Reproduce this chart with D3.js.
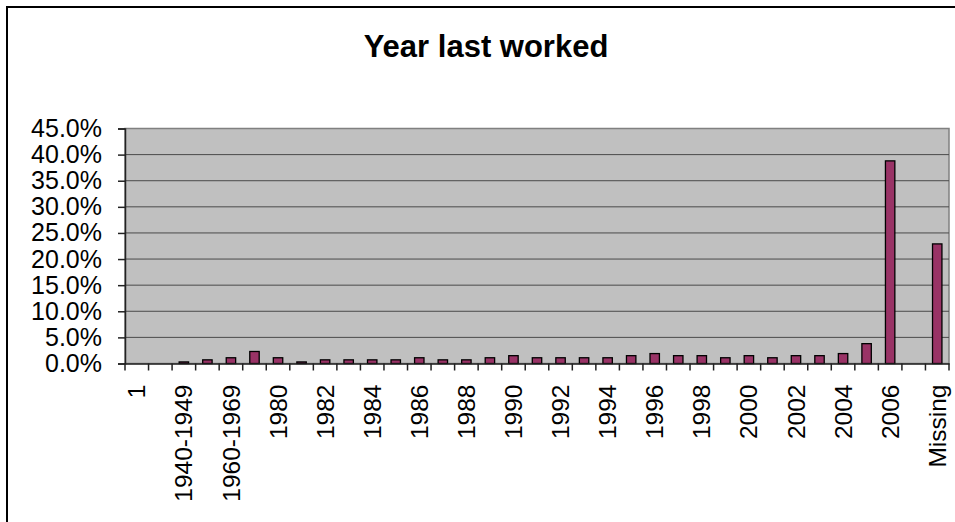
<!DOCTYPE html>
<html>
<head>
<meta charset="utf-8">
<script src="https://cdn.jsdelivr.net/npm/d3@7"></script>
<style>
  html, body { margin: 0; padding: 0; background: #fff; }
  svg { display: block; font-family: "Liberation Sans", Arial, sans-serif; }
</style>
</head>
<body>
<svg id="chart" width="955" height="522"></svg>
<script>
// ---- data ----
const categories = ["1", "1930-1939", "1940-1949", "1950-1959", "1960-1969", "1970-1979",
  "1980", "1981", "1982", "1983", "1984", "1985", "1986", "1987", "1988", "1989",
  "1990", "1991", "1992", "1993", "1994", "1995", "1996", "1997", "1998", "1999",
  "2000", "2001", "2002", "2003", "2004", "2005", "2006", "2007", "Missing"];
const values = [0, 0, 0.3, 0.7, 1.1, 2.3,
  1.1, 0.3, 0.7, 0.7, 0.7, 0.7, 1.1, 0.7, 0.7, 1.1,
  1.5, 1.1, 1.1, 1.1, 1.1, 1.5, 1.9, 1.5, 1.5, 1.1,
  1.5, 1.1, 1.5, 1.5, 1.9, 3.8, 38.8, 0, 22.9];
const yTicks = [0, 5, 10, 15, 20, 25, 30, 35, 40, 45];
const title = "Year last worked";

// ---- layout ----
const svg = d3.select("#chart");
const plot = { left: 125, right: 949, top: 128.5, bottom: 363.5 };

// outer chart border
svg.append("rect")
  .attr("x", 7).attr("y", 7).attr("width", 1000).attr("height", 600)
  .attr("fill", "#fff").attr("stroke", "#000").attr("stroke-width", 2);

svg.append("text")
  .attr("x", 486).attr("y", 57)
  .attr("text-anchor", "middle")
  .attr("font-size", 31).attr("font-weight", "bold")
  .text(title);

const x = d3.scaleBand().domain(categories).range([plot.left, plot.right]).padding(0);
const y = d3.scaleLinear().domain([0, 45]).range([plot.bottom, plot.top]);

// plot area background
svg.append("rect")
  .attr("x", plot.left).attr("y", plot.top)
  .attr("width", plot.right - plot.left).attr("height", plot.bottom - plot.top)
  .attr("fill", "#c0c0c0").attr("stroke", "#808080").attr("stroke-width", 1.5);

// gridlines
svg.append("g").selectAll("line")
  .data(yTicks.filter(t => t > 0 && t < 45))
  .join("line")
  .attr("x1", plot.left).attr("x2", plot.right)
  .attr("y1", d => y(d)).attr("y2", d => y(d))
  .attr("stroke", "#4a4a4a").attr("stroke-width", 1);

// bars
const bw = x.bandwidth() * 0.4;
svg.append("g").selectAll("rect")
  .data(values.map((v, i) => ({ c: categories[i], v })).filter(d => d.v > 0))
  .join("rect")
  .attr("x", d => x(d.c) + (x.bandwidth() - bw) / 2)
  .attr("y", d => y(d.v))
  .attr("width", bw)
  .attr("height", d => y(0) - y(d.v))
  .attr("fill", "#993366").attr("stroke", "#000").attr("stroke-width", 1.3);

// y axis
const yAxis = d3.axisLeft(y).tickValues(yTicks)
  .tickFormat(d => d.toFixed(1) + "%").tickSize(7).tickPadding(16);
const gy = svg.append("g").attr("transform", `translate(${plot.left},0)`).call(yAxis);
gy.select(".domain").attr("stroke", "#222").attr("stroke-width", 1.5);
gy.selectAll(".tick line").attr("stroke", "#222").attr("stroke-width", 1.5);
gy.selectAll("text").attr("font-size", 25).attr("fill", "#000")
  .attr("font-family", "Liberation Sans, Arial, sans-serif");

// x axis: labels (every other category)
const xAxis = d3.axisBottom(x)
  .tickFormat((d, i) => i % 2 === 0 ? d : "").tickSize(0);
const gx = svg.append("g").attr("transform", `translate(0,${plot.bottom})`).call(xAxis);
gx.select(".domain").attr("stroke", "#222").attr("stroke-width", 1.5);
gx.selectAll("text")
  .attr("font-size", 24.5).attr("fill", "#000")
  .attr("font-family", "Liberation Sans, Arial, sans-serif")
  .attr("text-anchor", "end")
  .attr("transform", "rotate(-90)")
  .attr("x", -21).attr("y", 0).attr("dy", "0.35em");

// x axis boundary ticks
const bounds = categories.map(c => x(c)).concat([plot.right]);
svg.append("g").selectAll("line")
  .data(bounds)
  .join("line")
  .attr("x1", d => d).attr("x2", d => d)
  .attr("y1", plot.bottom).attr("y2", plot.bottom + 7)
  .attr("stroke", "#222").attr("stroke-width", 1.5);
</script>
</body>
</html>
